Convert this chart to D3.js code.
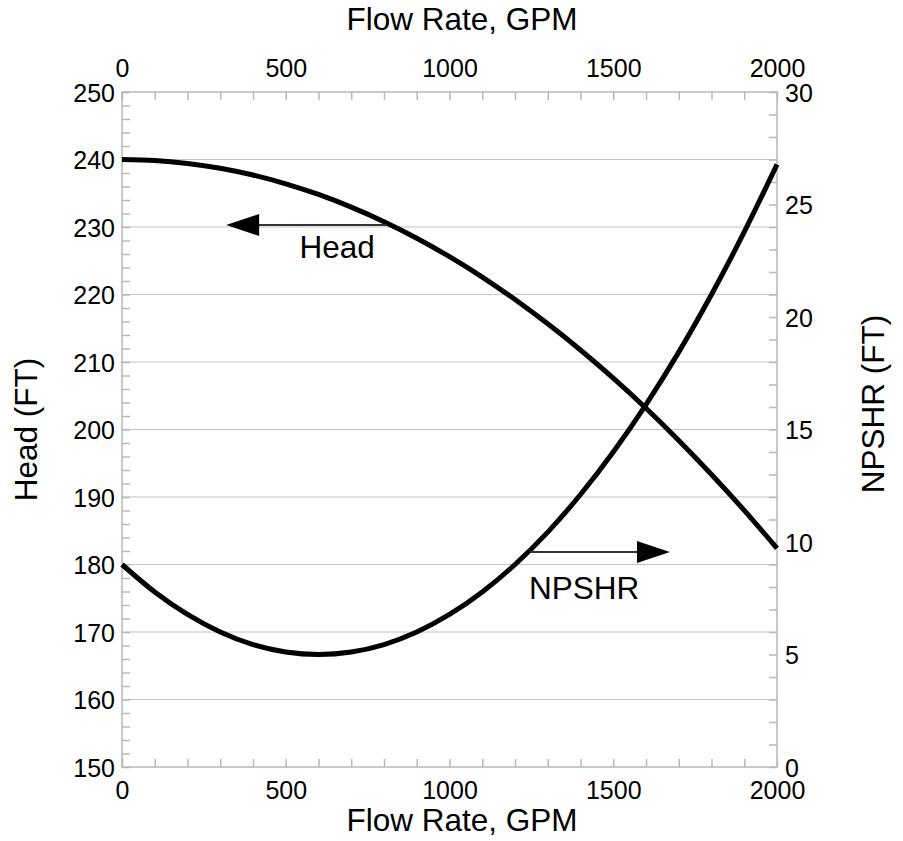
<!DOCTYPE html>
<html><head><meta charset="utf-8">
<script src="https://cdn.jsdelivr.net/npm/d3@7"></script>
<style>
html,body{margin:0;padding:0;background:#fff;}
svg{display:block;font-family:"Liberation Sans",Arial,sans-serif;}
</style></head>
<body><svg id="c" width="903" height="841"></svg>
<script>
// ---- data ----
const flow = [0,100,200,300,400,500,600,700,800,900,1000,1100,1200,1300,1400,1500,1600,1700,1800,1900,2000];
const head = [240,239.86,239.42,238.7,237.7,236.4,234.82,232.94,230.78,228.34,225.6,222.58,219.26,215.66,211.78,207.6,203.14,198.38,193.34,188.02,182.4];
const npshr = [9.0,7.78,6.78,6.0,5.44,5.11,5.0,5.11,5.44,6.0,6.78,7.78,9.0,10.44,12.11,14.0,16.11,18.44,21.0,23.78,26.78];
const flowTickLabels = [0,500,1000,1500,2000];
const headTickLabels = [150,160,170,180,190,200,210,220,230,240,250];
const npshrTickLabels = [0,5,10,15,20,25,30];
const xTitle = "Flow Rate, GPM";
const yLeftTitle = "Head (FT)";
const yRightTitle = "NPSHR (FT)";
// annotations
const headArrow = {from:809, to:318, value:230.3, label:"Head", labelFlow:657, labelValue:225.4};
const npshrArrow = {from:1246, to:1673, value:9.56, label:"NPSHR", labelFlow:1411, labelValue:7.47};

// ---- layout ----
const L=122, R=777, T=92, B=767;
const svg = d3.select("#c");
const x = d3.scaleLinear().domain([0,2000]).range([L,R]);
const yL = d3.scaleLinear().domain([150,250]).range([B,T]);
const yR = d3.scaleLinear().domain([0,30]).range([B,T]);
const grid="#c4c4c4", frame="#b8b8b8";
const tickFont=25, titleFont=31.5;

// gridlines
svg.append("g").selectAll("line").data(headTickLabels.slice(1,-1)).join("line")
  .attr("x1",L).attr("x2",R).attr("y1",d=>yL(d)).attr("y2",d=>yL(d))
  .attr("stroke",grid).attr("stroke-width",1.2);

function styleAxis(g){
  g.select(".domain").remove();
  g.selectAll(".tick line").attr("stroke",frame).attr("stroke-width",1.5);
  g.selectAll(".tick text").attr("fill","#000").attr("font-size",tickFont).attr("font-family","Liberation Sans, Arial, sans-serif");
}
const xMinor = d3.range(0,2001,100);
// bottom axis
const gb = svg.append("g").attr("transform",`translate(0,${B})`)
  .call(d3.axisBottom(x).tickValues(xMinor).tickSizeInner(-8).tickSizeOuter(0).tickPadding(0)
    .tickFormat(d=>flowTickLabels.includes(d)?d:""));
styleAxis(gb);
gb.selectAll(".tick text").attr("dy",null).attr("y",32);
// top axis
const gt = svg.append("g").attr("transform",`translate(0,${T})`)
  .call(d3.axisTop(x).tickValues(xMinor).tickSizeInner(-8).tickSizeOuter(0).tickPadding(0)
    .tickFormat(d=>flowTickLabels.includes(d)?d:""));
styleAxis(gt);
gt.selectAll(".tick text").attr("dy",null).attr("y",-15);
// left axis
const gl = svg.append("g").attr("transform",`translate(${L},0)`)
  .call(d3.axisLeft(yL).tickValues(d3.range(150,251,2)).tickSizeInner(-8).tickSizeOuter(0).tickPadding(0)
    .tickFormat(d=>headTickLabels.includes(d)?d:""));
styleAxis(gl);
gl.selectAll(".tick text").attr("x",-7).attr("dy","0.36em");
// right axis
const gr = svg.append("g").attr("transform",`translate(${R},0)`)
  .call(d3.axisRight(yR).tickValues(d3.range(0,31,1)).tickSizeInner(-8).tickSizeOuter(0).tickPadding(0)
    .tickFormat(d=>npshrTickLabels.includes(d)?d:""));
styleAxis(gr);
gr.selectAll(".tick text").attr("x",8).attr("dy","0.36em");

// frame
svg.append("rect").attr("x",L).attr("y",T).attr("width",R-L).attr("height",B-T)
  .attr("fill","none").attr("stroke",frame).attr("stroke-width",1.5);

// curves
const lineH = d3.line().x((d,i)=>x(flow[i])).y(d=>yL(d)).curve(d3.curveMonotoneX);
const lineN = d3.line().x((d,i)=>x(flow[i])).y(d=>yR(d)).curve(d3.curveMonotoneX);
svg.append("path").attr("d",lineH(head)).attr("fill","none").attr("stroke","#000").attr("stroke-width",5);
svg.append("path").attr("d",lineN(npshr)).attr("fill","none").attr("stroke","#000").attr("stroke-width",5);

// arrows
function arrow(a, yScale){
  const y = yScale(a.value), x0 = x(a.from), x1 = x(a.to);
  const dir = Math.sign(x1-x0), hl=33, hw=11;
  svg.append("line").attr("x1",x0).attr("x2",x1-dir*hl+dir*2).attr("y1",y).attr("y2",y)
    .attr("stroke","#333").attr("stroke-width",2);
  svg.append("path").attr("d",`M${x1},${y}L${x1-dir*hl},${y-hw}L${x1-dir*hl},${y+hw}Z`).attr("fill","#000");
  svg.append("text").attr("x",x(a.labelFlow)).attr("y",yScale(a.labelValue))
    .attr("text-anchor","middle").attr("font-size",titleFont).text(a.label);
}
arrow(headArrow, yL);
arrow(npshrArrow, yR);

// titles
svg.append("text").attr("x",462).attr("y",30).attr("text-anchor","middle").attr("font-size",titleFont).text(xTitle);
svg.append("text").attr("x",462).attr("y",831).attr("text-anchor","middle").attr("font-size",titleFont).text(xTitle);
svg.append("text").attr("transform",`translate(37,${(T+B)/2}) rotate(-90)`).attr("text-anchor","middle").attr("font-size",titleFont).text(yLeftTitle);
svg.append("text").attr("transform",`translate(884,404) rotate(-90)`).attr("text-anchor","middle").attr("font-size",titleFont).text(yRightTitle);
</script></body></html>
